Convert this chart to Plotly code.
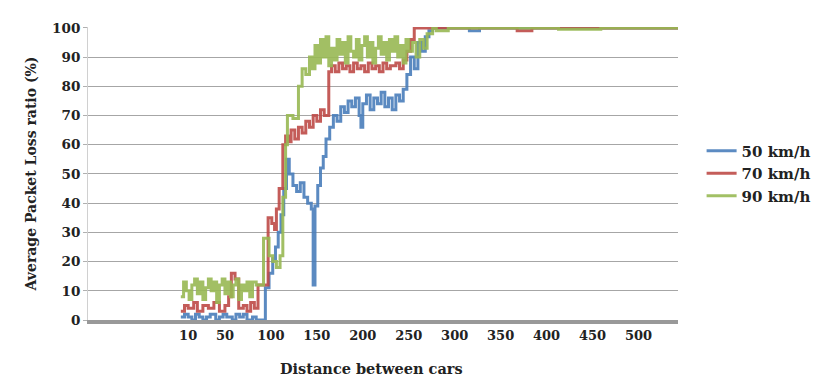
import plotly.graph_objects as go

# ---- data ----
dist_50 = [2, 6, 10, 14, 18, 22, 26, 30, 34, 40, 44, 48, 52, 58, 62, 66, 70, 74, 80, 84,
           94, 98, 102, 105, 108, 111, 114, 117, 120, 124, 128, 132, 136, 140, 144, 146, 148,
           151, 154, 157, 160, 164, 168, 172, 176, 180, 184, 188, 192, 196, 198, 200, 204,
           208, 212, 216, 220, 224, 228, 232, 236, 240, 244, 248, 252, 256, 260, 264, 268,
           272, 276, 316, 327, 543]
loss_50 = [1, 2, 1, 0, 2, 1, 0, 1, 2, 0, 1, 2, 1, 0, 2, 1, 2, 0, 1, 0,
           11, 16, 21, 25, 30, 36, 45, 55, 50, 46, 44, 47, 42, 40, 38, 12, 39,
           46, 52, 56, 62, 66, 70, 68, 73, 71, 75, 73, 76, 70, 66, 74, 77,
           72, 76, 74, 78, 73, 76, 72, 77, 75, 79, 84, 90, 86, 95, 92, 97,
           99, 100, 99, 100, 100]

dist_70 = [2, 6, 10, 16, 20, 26, 32, 38, 44, 50, 54, 57, 61, 65, 70, 74, 78, 82, 86,
           97, 101, 104, 106, 109, 113, 116, 119, 122, 126, 130, 134, 138, 142, 146, 150,
           154, 158, 163, 166, 170, 174, 178, 182, 186, 190, 194, 198, 202, 206, 210, 214,
           218, 222, 226, 230, 236, 240, 244, 248, 252, 256, 368, 384, 543]
loss_70 = [3, 5, 4, 6, 3, 5, 4, 6, 3, 5, 8, 16, 14, 4, 5, 3, 6, 4, 12,
           35, 33, 31, 38, 45, 60, 63, 61, 65, 62, 66, 64, 68, 66, 70, 68,
           72, 70, 85, 87, 85, 88, 86, 87, 85, 88, 86, 87, 85, 88, 86, 87,
           85, 88, 86, 87, 88, 86, 89, 92, 96, 100, 99, 100, 100]

dist_90 = [2, 5, 8, 11, 14, 17, 20, 23, 26, 29, 32, 35, 38, 41, 44, 47, 50, 53, 56, 59,
           62, 65, 68, 71, 74, 77, 80, 84, 92, 98, 102, 106, 110, 113, 116, 118, 124, 130,
           134, 138, 142, 145, 148, 151, 154, 157, 160, 163, 166, 169, 172, 175, 178, 181,
           184, 187, 190, 193, 196, 199, 202, 205, 208, 211, 214, 217, 220, 223, 226, 229,
           232, 235, 238, 241, 244, 247, 250, 254, 258, 262, 266, 270, 276, 280, 293, 413,
           459, 543]
loss_90 = [8, 13, 10, 7, 12, 14, 9, 13, 7, 11, 14, 10, 13, 6, 12, 14, 9, 13, 8, 12,
           14, 7, 12, 10, 13, 8, 13, 12, 28, 22, 20, 18, 22, 42, 60, 70, 69, 80,
           86, 84, 90, 86, 94, 88, 96, 90, 97, 87, 93, 89, 96, 91, 95, 88,
           97, 92, 90, 96, 89, 94, 97, 90, 95, 88, 93, 97, 91, 95, 89, 96,
           92, 97, 90, 94, 88, 96, 92, 95, 90, 96, 93, 98, 100, 99, 100, 99.5,
           100, 100]

series_names = ["50 km/h", "70 km/h", "90 km/h"]
series_colors = ["#4a7ebb", "#be4b48", "#98b954"]

x_tick_vals = [10, 50, 100, 150, 200, 250, 300, 350, 400, 450, 500]
x_tick_text = ["10", "50", "100", "150", "200", "250", "300", "350", "400", "450", "500"]
y_tick_vals = [0, 10, 20, 30, 40, 50, 60, 70, 80, 90, 100]

FONT = "DejaVu Serif"
TXT = "#222222"

fig = go.Figure()
for xs, ys, name, col in zip([dist_50, dist_70, dist_90],
                             [loss_50, loss_70, loss_90],
                             series_names, series_colors):
    fig.add_trace(go.Scatter(x=xs, y=ys, mode="lines", name=name,
                             line=dict(color=col, width=3, shape="hv"),
                             opacity=0.9))

fig.update_layout(
    width=820, height=378,
    margin=dict(l=80, r=142, t=16, b=66),
    paper_bgcolor="white", plot_bgcolor="white",
    font=dict(family=FONT, size=13, color=TXT),
    showlegend=True,
    legend=dict(x=1.04, y=0.5, xanchor="left", yanchor="middle",
                font=dict(family=FONT, size=15, color=TXT, weight="bold"),
                bgcolor="rgba(0,0,0,0)", itemwidth=30),
    xaxis=dict(range=[-99, 543], tickvals=x_tick_vals, ticktext=x_tick_text,
               showgrid=False, zeroline=False, showline=True, linecolor="#999999",
               linewidth=4, ticks="",
               tickfont=dict(family=FONT, size=13, weight="bold", color=TXT)),
    yaxis=dict(range=[0, 100.3], tickvals=y_tick_vals, showgrid=True,
               gridcolor="#a6a6a6", gridwidth=1.3, zeroline=False,
               showline=True, linecolor="#d0d0d0", linewidth=1,
               ticks="outside", ticklen=4, tickcolor="#b0b0b0",
               tickfont=dict(family=FONT, size=13.5, weight="bold", color=TXT),
               title=dict(text="Average Packet Loss ratio (%)", standoff=12,
                          font=dict(family=FONT, size=14, weight="bold", color=TXT))),
    annotations=[dict(text="Distance between cars", xref="paper", yref="paper",
                      x=0.48, y=-0.165, xanchor="center", yanchor="middle",
                      showarrow=False,
                      font=dict(family=FONT, size=14.5, weight="bold", color=TXT))],
)

fig.write_html("out.html")
